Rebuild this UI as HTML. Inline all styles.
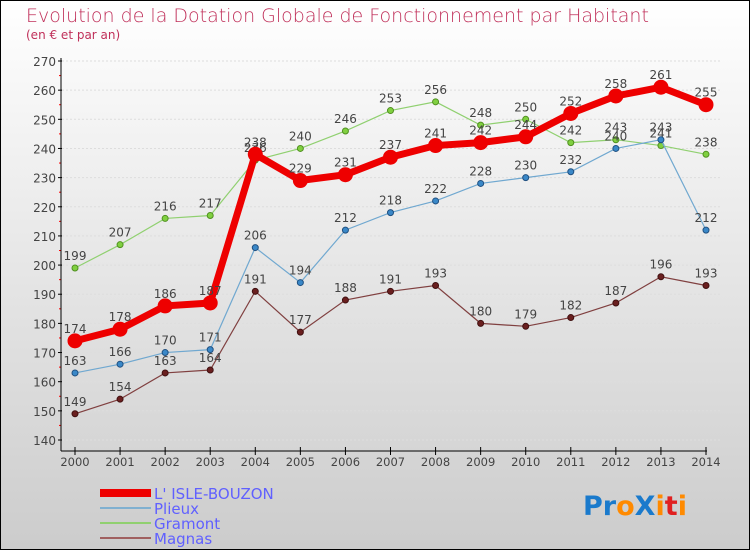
<!DOCTYPE html>
<html><head><meta charset="utf-8"><style>
body{margin:0}
#c{width:750px;height:550px;position:relative;box-sizing:border-box;border:1px solid #000;background:linear-gradient(#fff,#ccc);font-family:"DejaVu Sans","Liberation Sans",sans-serif;overflow:hidden}
</style></head><body>
<div id="c">
<svg id="s" width="750" height="550" style="position:absolute;left:-1px;top:-1px">
<text x="26" y="22" font-size="19" fill="#c0305a" font-family="DejaVu Sans,sans-serif" font-weight="200">Evolution de la Dotation Globale de Fonctionnement par Habitant</text>
<text x="26" y="39" font-size="12" fill="#c0305a">(en € et par an)</text>
</svg>
</div>
<script>
const years=["2000","2001","2002","2003","2004","2005","2006","2007","2008","2009","2010","2011","2012","2013","2014"];
const yTicks=[140,150,160,170,180,190,200,210,220,230,240,250,260,270];
const isle=[174,178,186,187,238,229,231,237,241,242,244,252,258,261,255];
const plieux=[163,166,170,171,206,194,212,218,222,228,230,232,240,243,212];
const gramont=[199,207,216,217,236,240,246,253,256,248,250,242,243,241,238];
const magnas=[149,154,163,164,191,177,188,191,193,180,179,182,187,196,193];
const NS="http://www.w3.org/2000/svg",s=document.getElementById('s');
const X=i=>75+i*(706-75)/(years.length-1);
const Y=v=>440-(v-140)*(440-61)/130;
function mk(t,a,p){const e=document.createElementNS(NS,t);for(const k in a)e.setAttribute(k,a[k]);(p||s).appendChild(e);return e;}
// grid + y axis
yTicks.forEach(v=>{
 const g=mk('line',{x1:62,x2:720,y1:Y(v),y2:Y(v),stroke:'#ddd','stroke-dasharray':'2,2'});
 
 
 const t=mk('line',{x1:58,x2:62,y1:Y(v),y2:Y(v),stroke:'#000'});
 
 
 if(v<270){const m=mk('line',{x1:59,x2:61,y1:Y(v+5),y2:Y(v+5),stroke:'red'});
 
 }
 const l=mk('text',{x:56,y:Y(v)+5,'text-anchor':'end','font-size':12,fill:'#444'});l.textContent=v;
 
 
});
const ya=mk('line',{x1:61,x2:61,y1:58,y2:451,stroke:'#000'});


const xa=mk('line',{x1:61,x2:707,y1:451,y2:451,stroke:'#000'});


years.forEach((y,i)=>{
 const t=mk('line',{x1:X(i),x2:X(i),y1:447,y2:455,stroke:'#000'});
 
 
 const l=mk('text',{x:X(i),y:466,'text-anchor':'middle','font-size':11.5,fill:'#444'});l.textContent=y;
 
 
});
function series(d,col,w,r,dot,stroke,name){
 const g=mk('g',{});
 
 
 const p=mk('polyline',{points:d.map((v,i)=>X(i)+','+Y(v)).join(' '),fill:'none',stroke:col,'stroke-width':w},g);
 
 
 d.forEach((v,i)=>{
  const c=mk('circle',{cx:X(i),cy:Y(v),r:r,fill:dot,stroke:stroke,'stroke-width':1},g);
  
  
  const t=mk('text',{x:X(i),y:Y(v)-8,'text-anchor':'middle','font-size':12,fill:'#444'},g);t.textContent=v;
  
  
 });
}
series(magnas,'#804040',1.2,3,'#6a1f1f','#401010','magnas');
series(gramont,'#90d070',1.2,3,'#80d040','#509020','gramont');
series(plieux,'#70a8d0',1.2,3,'#3a88c8','#205080','plieux');
series(isle,'#ee0000',7,7,'#ee0000','#ee0000','isle-bouzon');
// legend
const leg=[["L' ISLE-BOUZON",'#ee0000',8],['Plieux','#80b0d0',2],['Gramont','#90d070',2],['Magnas','#a06060',2]];
leg.forEach((e,i)=>{
 const y=493+i*15;
 const l=mk('line',{x1:100,x2:151,y1:y,y2:y,stroke:e[1],'stroke-width':e[2]});
 
 
 const t=mk('text',{x:154,y:y+6,'font-size':15,fill:'#6060ff'});t.textContent=e[0];
 
 
});
const lg=mk('text',{x:583,y:515,'font-size':27,'font-weight':'bold'});


[['Pr','#1a7acc'],['o','#ff8a00'],['X','#1a7acc'],['i','#ff8a00'],['t','#e02020'],['i','#ff8a00']].forEach(p=>{const ts=mk('tspan',{fill:p[1]},lg);ts.textContent=p[0];});
</script>
</body></html>
